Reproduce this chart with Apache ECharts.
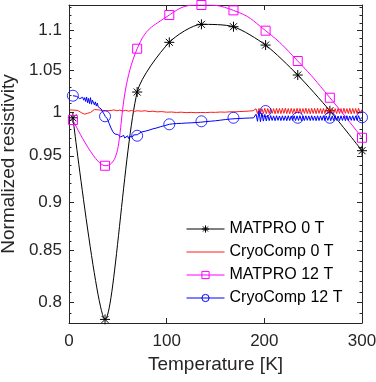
<!DOCTYPE html>
<html>
<head>
<meta charset="utf-8">
<script src="https://cdn.jsdelivr.net/npm/echarts@6/dist/echarts.min.js"></script>
<style>
  html, body { margin: 0; padding: 0; background: #fff; }
  #chart { width: 376px; height: 382px; }
</style>
</head>
<body>
<div id="chart"></div>
<script>
// MATPRO curves, 10 sample temperatures [K]
const matproTemp = [4, 36.9, 69.8, 102.7, 135.6, 168.4, 201.3, 234.2, 267.1, 300]
const matpro0T = [0.9933, 0.7843, 1.0237, 1.0851, 1.1082, 1.1051, 1.0816, 1.0443, 1.0015, 0.9557]
const matpro12T = [0.9907, 0.9390, 1.0770, 1.1204, 1.1336, 1.1265, 1.1000, 1.0616, 1.0169, 0.9703]
// CryoComp 12 T markers (same temperatures)
const cryo12Marks = [1.0193, 0.9950, 0.9726, 0.9857, 0.9892, 0.9933, 1.0012, 0.9933, 0.9933, 0.9938]

// CryoComp 0 T, low temperature part [T, value]
const cryo0Low = [
  [1, 1.0025], [3, 1.0020], [5, 1.0022], [7, 1.0015], [9, 1.0018], [11, 1.0005], [13, 0.9990],
  [14, 1.0000], [15, 0.9985], [16, 0.9975], [17, 0.9992], [18, 0.9968], [19, 0.9985], [20, 0.9990],
  [22, 0.9995], [24, 1.0010], [26, 1.0030], [27, 1.0015], [28, 1.0040], [30, 1.0025],
  [32, 1.0032], [34, 1.0020], [36, 1.0028], [38, 1.0015], [40, 1.0022],
  [43, 1.0018], [46, 1.0025], [49, 1.0015], [52, 1.0022], [55, 1.0012], [58, 1.0020], [61, 1.0010],
  [64, 1.0018], [67, 1.0008], [70, 1.0015], [74, 1.0010], [78, 1.0015], [82, 1.0005], [86, 1.0010],
  [90, 1.0002], [95, 1.0005], [100, 0.9998], [105, 1.0000], [110, 0.9995], [115, 0.9998],
  [120, 0.9993], [125, 0.9996], [130, 0.9992], [135, 0.9995], [140, 0.9993], [145, 0.9997],
  [150, 0.9996], [155, 1.0000], [160, 0.9998], [165, 1.0003], [170, 1.0002], [175, 1.0006],
  [180, 1.0008], [185, 1.0012], [188.5, 1.0015]
]

// CryoComp 12 T, low temperature part [T, value]
const cryo12Low = [
  [4, 1.0193], [6, 1.0195], [8, 1.0185], [10, 1.0165], [11, 1.0158], [12, 1.0168], [13, 1.0160],
  [14, 1.0175], [15, 1.0140], [16, 1.0170], [17, 1.0125], [18, 1.0178], [19, 1.0110], [20, 1.0160],
  [21, 1.0100], [22, 1.0170], [23, 1.0092], [24, 1.0140], [25, 1.0150], [26, 1.0085], [27, 1.0120],
  [28, 1.0070], [29, 1.0105], [30, 1.0060], [31, 1.0050], [32, 1.0060], [33, 1.0035], [34, 1.0010],
  [35, 0.9990], [36, 0.9975], [37, 0.9950], [38, 0.9935], [39, 0.9925], [40, 0.9900], [41, 0.9870],
  [42, 0.9850], [43, 0.9815], [44, 0.9800], [45, 0.9770], [46, 0.9760], [47, 0.9745], [48, 0.9732],
  [49, 0.9725], [50, 0.9740], [51, 0.9722], [52, 0.9735], [53, 0.9712], [54, 0.9728], [55, 0.9718],
  [56, 0.9730], [57, 0.9700], [58, 0.9722], [59, 0.9705], [60, 0.9725], [61, 0.9695], [62, 0.9718],
  [63, 0.9710], [64, 0.9725], [65, 0.9712], [66, 0.9735], [67, 0.9722], [68, 0.9740], [70, 0.9738],
  [72, 0.9755], [74, 0.9768], [76, 0.9765], [78, 0.9778], [80, 0.9785], [82, 0.9790], [84, 0.9797],
  [86, 0.9805], [88, 0.9814], [90, 0.9816], [92, 0.9820], [94, 0.9830], [96, 0.9837], [98, 0.9842],
  [100, 0.9849], [103, 0.9858], [106, 0.9862], [110, 0.9866], [115, 0.9868], [120, 0.9872],
  [125, 0.9874], [130, 0.9878], [135, 0.9882], [140, 0.9888], [145, 0.9893], [150, 0.9898],
  [155, 0.9905], [160, 0.9912], [165, 0.9918], [170, 0.9922], [175, 0.9925], [180, 0.9928],
  [185, 0.9930], [189, 0.9932]
]

// high temperature part, both CryoComp curves oscillate
const oscTemp = [
  190, 191.5, 193, 194.5, 196, 197.5, 199, 200.5, 202, 203.5,
  205, 206.5, 208, 209.5, 211, 212.5, 214, 215.5, 217, 218.5,
  220, 221.5, 223, 224.5, 226, 227.5, 229, 230.5, 232, 233.5,
  235, 236.5, 238, 239.5, 241, 242.5, 244, 245.5, 247, 248.5,
  250, 251.5, 253, 254.5, 256, 257.5, 259, 260.5, 262, 263.5,
  265, 266.5, 268, 269.5, 271, 272.5, 274, 275.5, 277, 278.5,
  280, 281.5, 283, 284.5, 286, 287.5, 289, 290.5, 292, 293.5,
  295, 296.5, 298, 300
]
const cryo0Osc = [
  1.0010, 1.0038, 0.9982, 1.0042, 0.9980, 1.0040, 0.9983, 1.0044, 0.9979, 1.0041,
  0.9982, 1.0043, 0.9984, 1.0040, 0.9980, 1.0044, 0.9983, 1.0041, 0.9981, 1.0043,
  0.9984, 1.0045, 0.9982, 1.0041, 0.9979, 1.0043, 0.9983, 1.0040, 0.9981, 1.0044,
  0.9984, 1.0042, 0.9980, 1.0041, 0.9983, 1.0045, 0.9982, 1.0040, 0.9979, 1.0043,
  0.9983, 1.0042, 0.9981, 1.0044, 0.9984, 1.0040, 0.9980, 1.0043, 0.9983, 1.0041,
  0.9982, 1.0045, 0.9979, 1.0042, 0.9984, 1.0040, 0.9981, 1.0043, 0.9983, 1.0041,
  0.9980, 1.0044, 0.9984, 1.0040, 0.9982, 1.0043, 0.9979, 1.0042, 0.9983, 1.0041,
  0.9981, 1.0044, 0.9984, 1.0030
]
const cryo12Osc = [
  0.9932, 0.9975, 0.9892, 1.0012, 0.9888, 0.9988, 0.9894, 0.9972, 0.9897, 0.9963,
  0.9900, 0.9958, 0.9902, 0.9955, 0.9899, 0.9957, 0.9903, 0.9954, 0.9900, 0.9956,
  0.9902, 0.9955, 0.9899, 0.9957, 0.9901, 0.9954, 0.9903, 0.9956, 0.9900, 0.9955,
  0.9902, 0.9957, 0.9899, 0.9954, 0.9901, 0.9956, 0.9903, 0.9955, 0.9900, 0.9957,
  0.9902, 0.9954, 0.9899, 0.9956, 0.9901, 0.9955, 0.9903, 0.9957, 0.9900, 0.9954,
  0.9902, 0.9956, 0.9899, 0.9955, 0.9901, 0.9957, 0.9903, 0.9954, 0.9900, 0.9956,
  0.9902, 0.9955, 0.9899, 0.9957, 0.9901, 0.9954, 0.9903, 0.9956, 0.9900, 0.9955,
  0.9902, 0.9957, 0.9910, 0.9938
]

// axis ticks
const xTicks = [0, 100, 200, 300]
const yTicks = [0.8, 0.85, 0.9, 0.95, 1, 1.05, 1.1]
const yMinorTicks = [0.79, 0.81, 0.82, 0.83, 0.84, 0.86, 0.87, 0.88, 0.89, 0.91, 0.92, 0.93, 0.94,
  0.96, 0.97, 0.98, 0.99, 1.01, 1.02, 1.03, 1.04, 1.06, 1.07, 1.08, 1.09, 1.11, 1.12, 1.13]

const FONT = 'Liberation Sans, Arial, Helvetica, sans-serif'
const AX = '#262626'
const Y_MIN = 0.781
const Y_MAX = 1.1336
const STAR = 'path://M5,0L5,10M0,5L10,5M1.5,1.5L8.5,8.5M1.5,8.5L8.5,1.5'

const zip = (xs, ys) => xs.map((x, i) => [x, ys[i]])

function yAxisOf(side, major, showLabel) {
  return {
    type: 'log',
    logBase: 10,
    position: side,
    min: Y_MIN,
    max: Y_MAX,
    axisLine: { show: major, onZero: false, lineStyle: { color: AX, width: 1 } },
    axisTick: {
      show: true,
      inside: true,
      length: major ? 5 : 2.5,
      customValues: major ? yTicks : yMinorTicks,
      lineStyle: { color: AX, width: 1 }
    },
    axisLabel: {
      show: showLabel,
      customValues: yTicks,
      margin: 7,
      fontSize: 17,
      fontFamily: FONT,
      color: AX,
      formatter: v => String(Math.round(v * 100) / 100)
    },
    splitLine: { show: false },
    minorTick: { show: false },
    name: showLabel ? 'Normalized resistivity' : '',
    nameLocation: 'middle',
    nameGap: 46,
    nameTextStyle: { fontSize: 19, fontFamily: FONT, color: AX }
  }
}

function xAxisOf(side, showLabel) {
  return {
    type: 'value',
    position: side,
    min: 0,
    max: 300,
    interval: 100,
    axisLine: { show: true, onZero: false, lineStyle: { color: AX, width: 1 } },
    axisTick: { show: true, inside: true, length: 5, customValues: xTicks, lineStyle: { color: AX } },
    axisLabel: { show: showLabel, margin: 10, fontSize: 17, fontFamily: FONT, color: AX },
    splitLine: { show: false },
    name: showLabel ? 'Temperature [K]' : '',
    nameLocation: 'middle',
    nameGap: 32,
    nameTextStyle: { fontSize: 19, fontFamily: FONT, color: AX }
  }
}

const chart = echarts.init(document.getElementById('chart'), null, { renderer: 'canvas' })

chart.setOption({
  animation: false,
  backgroundColor: '#fff',
  grid: { left: 69, right: 14, top: 5, bottom: 59, outerBoundsMode: 'none' },
  xAxis: [xAxisOf('bottom', true), xAxisOf('top', false)],
  yAxis: [
    yAxisOf('left', true, true),
    yAxisOf('right', true, false),
    yAxisOf('left', false, false),
    yAxisOf('right', false, false)
  ],
  legend: {
    orient: 'vertical',
    left: 181,
    top: 216,
    itemWidth: 38,
    itemHeight: 9,
    itemGap: 7,
    textStyle: { fontSize: 16, fontFamily: FONT, color: '#000' },
    itemStyle: { borderWidth: 1 },
    lineStyle: { width: 1 },
    data: ['MATPRO 0 T', 'CryoComp 0 T', 'MATPRO 12 T', 'CryoComp 12 T']
  },
  series: [
    {
      name: 'MATPRO 0 T',
      type: 'line',
      smooth: 0.25,
      data: zip(matproTemp, matpro0T),
      symbol: STAR,
      symbolSize: 10,
      showAllSymbol: true,
      itemStyle: { color: '#000', borderColor: '#000', borderWidth: 1 },
      lineStyle: { color: '#000', width: 1 },
      z: 2
    },
    {
      name: 'CryoComp 0 T',
      type: 'line',
      data: cryo0Low.concat(zip(oscTemp, cryo0Osc)),
      symbol: 'none',
      itemStyle: { color: 'rgba(0,0,0,0)', borderColor: 'rgba(0,0,0,0)', borderWidth: 0 },
      lineStyle: { color: '#ff1a1a', width: 1 },
      z: 3
    },
    {
      name: 'MATPRO 12 T',
      type: 'line',
      smooth: 0.5,
      data: zip(matproTemp, matpro12T),
      symbol: 'rect',
      symbolSize: 9,
      showAllSymbol: true,
      itemStyle: { color: 'rgba(0,0,0,0)', borderColor: '#ff00ff', borderWidth: 1 },
      lineStyle: { color: '#ff00ff', width: 1 },
      z: 4
    },
    {
      name: 'CryoComp 12 T',
      type: 'line',
      data: cryo12Low.concat(zip(oscTemp, cryo12Osc)),
      symbol: 'circle',
      symbolSize: 10,
      showSymbol: false,
      itemStyle: { color: 'rgba(0,0,0,0)', borderColor: '#0000ff', borderWidth: 1 },
      lineStyle: { color: '#0000ff', width: 1 },
      z: 5
    },
    {
      name: 'CryoComp 12 T markers',
      type: 'scatter',
      data: zip(matproTemp, cryo12Marks),
      symbol: 'circle',
      symbolSize: 11,
      itemStyle: { color: 'rgba(0,0,0,0)', borderColor: '#0000ff', borderWidth: 1 },
      z: 6
    }
  ]
})

window.addEventListener('resize', () => chart.resize())
</script>
</body>
</html>
